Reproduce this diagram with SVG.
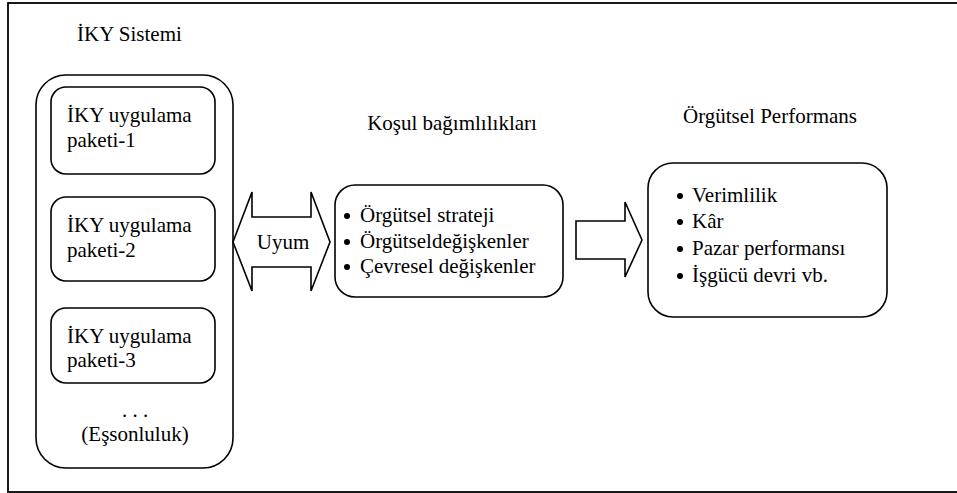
<svg xmlns="http://www.w3.org/2000/svg" width="957" height="493" viewBox="0 0 957 493">
<style>
text{font-family:"Liberation Serif",Tinos,"Times New Roman",Times,"DejaVu Serif",serif;font-size:21px;fill:#000}
.box{fill:#fff;stroke:#000;stroke-width:1.6}
.arr{fill:#fff;stroke:#000;stroke-width:1.6;stroke-linejoin:miter}
.b{fill:#000}
</style>
<rect x="8" y="3" width="955" height="489" fill="#fff" stroke="#000" stroke-width="1.8"/>
<g id="iky-sistemi" font-family="Liberation Serif, serif">
<text x="77" y="41">İKY Sistemi</text>
<rect class="box" x="36" y="75" width="197" height="393" rx="30"/>
<g id="paket1">
<rect class="box" x="51" y="87" width="164" height="87" rx="15"/>
<text x="67" y="122">İKY uygulama</text>
<text x="67" y="147">paketi-1</text>
</g>
<g id="paket2">
<rect class="box" x="51" y="197" width="164" height="84" rx="15"/>
<text x="67" y="232">İKY uygulama</text>
<text x="67" y="257">paketi-2</text>
</g>
<g id="paket3">
<rect class="box" x="51" y="308" width="164" height="75" rx="15"/>
<text x="67" y="343">İKY uygulama</text>
<text x="67" y="367">paketi-3</text>
</g>
<text x="135" y="417" text-anchor="middle">. . .</text>
<text x="135" y="441" text-anchor="middle">(Eşsonluluk)</text>
</g>
<g id="kosul">
<text x="452" y="130" text-anchor="middle">Koşul bağımlılıkları</text>
<rect class="box" x="335" y="185" width="228" height="112" rx="20"/>
<circle class="b" cx="347" cy="216" r="3"/>
<circle class="b" cx="347" cy="242" r="3"/>
<circle class="b" cx="347" cy="267" r="3"/>
<text x="360" y="222">Örgütsel strateji</text>
<text x="360" y="248">Örgütseldeğişkenler</text>
<text x="360" y="273">Çevresel değişkenler</text>
</g>
<g id="performans">
<text x="770" y="123" text-anchor="middle">Örgütsel Performans</text>
<rect class="box" x="648" y="163" width="239" height="154" rx="25"/>
<circle class="b" cx="680" cy="196" r="3"/>
<circle class="b" cx="680" cy="222" r="3"/>
<circle class="b" cx="680" cy="249" r="3"/>
<circle class="b" cx="680" cy="276" r="3"/>
<text x="692" y="202">Verimlilik</text>
<text x="692" y="228">Kâr</text>
<text x="692" y="255">Pazar performansı</text>
<text x="692" y="282">İşgücü devri vb.</text>
</g>
<g id="connectors">
<polygon class="arr" points="233,242 252,192 252,217 311,217 311,192 330,242 311,291 311,267 252,267 252,291"/>
<text x="283" y="249" text-anchor="middle">Uyum</text>
<polygon class="arr" points="576,221 625,221 625,202 642,240 625,277 625,259 576,259"/>
</g>
</svg>
